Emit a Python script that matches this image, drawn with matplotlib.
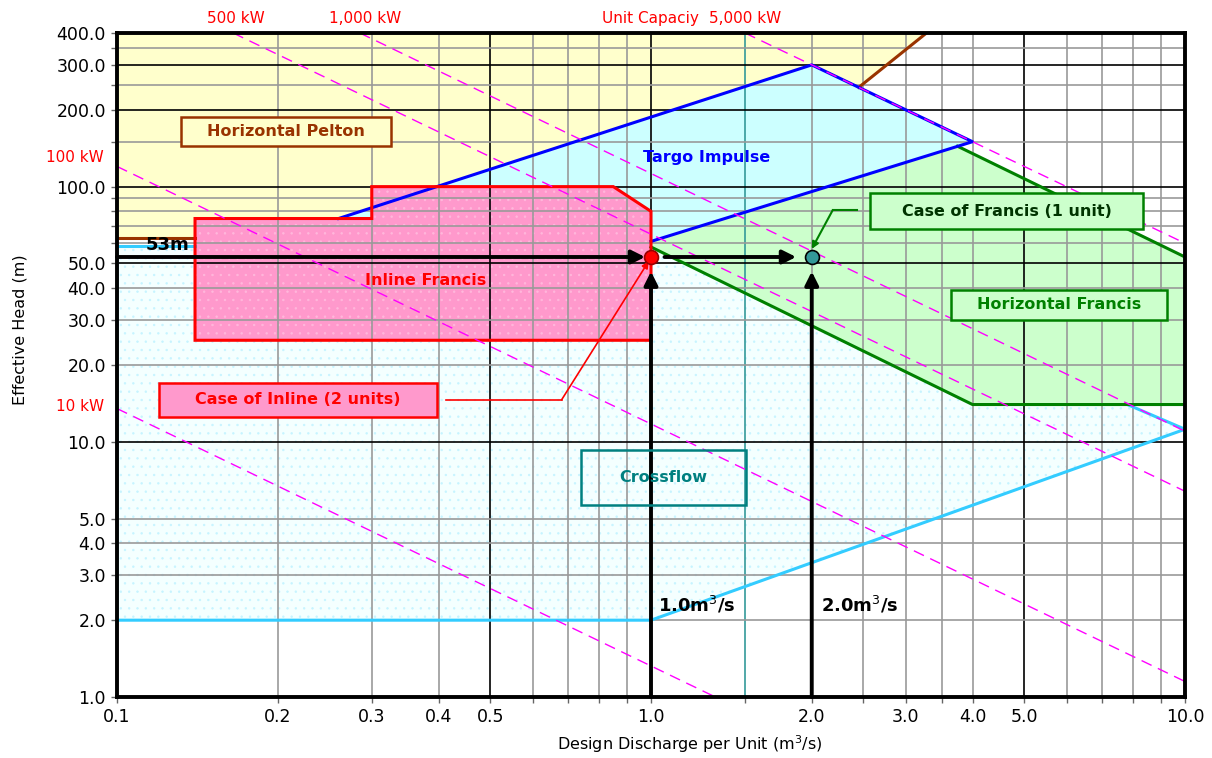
import numpy as np
import matplotlib.pyplot as plt
from matplotlib.patches import Polygon, Rectangle
from matplotlib.ticker import NullFormatter
from matplotlib.transforms import blended_transform_factory

# axis ticks and grid
x_ticks = [0.1, 0.2, 0.3, 0.4, 0.5, 1.0, 2.0, 3.0, 4.0, 5.0, 10.0]
x_ticklabels = ["0.1", "0.2", "0.3", "0.4", "0.5", "1.0", "2.0", "3.0", "4.0", "5.0", "10.0"]
x_minor = [0.6, 0.7, 0.8, 0.9, 1.5, 2.5, 3.5, 6.0, 7.0, 8.0, 9.0]
x_dark = [0.5, 1.0, 5.0]
y_ticks = [1, 2, 3, 4, 5, 10, 20, 30, 40, 50, 100, 200, 300, 400]
y_ticklabels = ["1.0", "2.0", "3.0", "4.0", "5.0", "10.0", "20.0", "30.0", "40.0",
                "50.0", "100.0", "200.0", "300.0", "400.0"]
y_minor = [60, 70, 80, 90, 150, 250, 350]
y_dark = [10, 50, 100, 200, 300]

# unit capacity lines (Q-H end points)
cap_labels = ["10 kW", "100 kW", "500 kW", "1,000 kW", "5,000 kW"]
cap_q = [[0.1, 1.32], [0.1, 10.0], [0.165, 10.0], [0.285, 10.0], [1.5, 10.0]]
cap_h = [[13.5, 1.0], [120.0, 1.15], [400.0, 6.4], [400.0, 11.0], [400.0, 60.0]]

# turbine application ranges
pelton_q = [0.1, 0.1, 3.28, 2.45, 2.0, 0.26, 0.26]
pelton_h = [63, 400, 400, 245, 300, 75, 63]
targo_q = [0.26, 2.0, 4.0, 1.0]
targo_h = [75, 300, 150, 61]
francis_q = [1.0, 4.0, 10.0, 10.0, 3.75, 1.0]
francis_h = [58, 14, 14, 53, 144, 61]
cross_q = [0.1, 0.1, 1.0, 10.0, 7.8, 1.85]
cross_h = [58.5, 2, 2, 11.2, 14, 58.5]
inline_q = [0.14, 0.14, 0.3, 0.3, 0.85, 1.0, 1.0]
inline_h = [25, 75, 75, 100, 100, 80, 25]

# selected cases
case_q = [1.0, 2.0]
case_h = [53, 53]

fig = plt.figure(figsize=(12.12, 7.58), dpi=100)
ax = fig.add_axes([117 / 1212, 1 - 697 / 758, 1068 / 1212, 664 / 758])
ax.set_xscale("log")
ax.set_yscale("log")
ax.set_xlim(0.1, 10)
ax.set_ylim(1, 400)


def region(q, h, face, z, dots=None):
    pts = np.column_stack([q, h])
    ax.add_patch(Polygon(pts, closed=True, facecolor=face, edgecolor="none", zorder=z))
    if dots:
        ax.add_patch(Polygon(pts, closed=True, fill=False, edgecolor=dots, lw=0,
                             hatch="..", zorder=z))


plt.rcParams["hatch.linewidth"] = 0.5
region(cross_q, cross_h, "#F4FFFF", 1.0, dots="#C6F4FF")
region(pelton_q, pelton_h, "#FFFFCC", 1.1)
region(francis_q, francis_h, "#CCFFCC", 1.2)
region(targo_q, targo_h, "#CCFFFF", 1.3)
region(inline_q, inline_h, "#FF99CC", 1.4, dots="#FFB8DC")

# grid
for v in x_ticks[1:-1] + x_minor:
    c = "black" if v in x_dark else ("#339999" if v == 1.5 else "#999999")
    ax.axvline(v, color=c, lw=1.2, zorder=2)
for v in y_ticks[1:-1] + y_minor:
    c = "black" if v in y_dark else "#999999"
    ax.axhline(v, color=c, lw=1.2, zorder=2)

# region outlines
ax.plot([0.14, 0.1], [63, 63], color="#993300", lw=2.2, zorder=3)
ax.plot(pelton_q[2:4], pelton_h[2:4], color="#993300", lw=2.2, zorder=3)
ax.plot(cross_q[:5], cross_h[:5], color="#33CCFF", lw=2.2, zorder=3)
ax.plot([0.1, 0.14], [58.5, 58.5], color="#33CCFF", lw=2.2, zorder=3)
ax.plot(francis_q[:3], francis_h[:3], color="#008000", lw=2.2, zorder=3)
ax.plot(francis_q[3:5], francis_h[3:5], color="#008000", lw=2.2, zorder=3)
ax.plot(targo_q, targo_h, color="#0000FF", lw=2.2, zorder=3.1)
ax.add_patch(Polygon(np.column_stack([inline_q, inline_h]), closed=True, fill=False,
                     edgecolor="#FF0000", lw=2.2, zorder=3.2))

# unit capacity lines
for q, h in zip(cap_q, cap_h):
    ax.plot(q, h, color="#FF00FF", lw=1.0, ls=(0, (8, 5)), zorder=3.5)

# 53 m / discharge arrows
arw = dict(arrowstyle="-|>", color="black", lw=2.8, mutation_scale=20, shrinkA=0, shrinkB=0)
ax.annotate("", xy=(0.975, case_h[0]), xytext=(0.1, case_h[0]), arrowprops=arw, zorder=5)
ax.annotate("", xy=(1.87, case_h[1]), xytext=(1.06, case_h[1]), arrowprops=arw, zorder=5)
ax.annotate("", xy=(case_q[0], 46.5), xytext=(case_q[0], 1.0), arrowprops=arw, zorder=5)
ax.annotate("", xy=(case_q[1], 46.5), xytext=(case_q[1], 1.0), arrowprops=arw, zorder=5)
ax.plot(case_q[0], case_h[0], "o", ms=10, mfc="#FF0000", mec="#990000", mew=1.2, zorder=6)
ax.plot(case_q[1], case_h[1], "o", ms=10, mfc="#339999", mec="black", mew=1.2, zorder=6)

# leaders
ax.annotate("", xy=(0.99, 51), xytext=(0.68, 14.6),
            arrowprops=dict(arrowstyle="-|>", color="#FF0000", lw=1.2, shrinkA=0, shrinkB=0),
            zorder=5)
ax.plot([0.414, 0.68], [14.6, 14.6], color="#FF0000", lw=1.2, zorder=5)
ax.annotate("", xy=(2.0, 57), xytext=(2.19, 81),
            arrowprops=dict(arrowstyle="-|>", color="#008000", lw=1.5, shrinkA=0, shrinkB=0),
            zorder=5)
ax.plot([2.19, 2.43], [81, 81], color="#008000", lw=1.5, zorder=5)


def boxed(x0, x1, y0, y1, text, tcol, face, edge):
    ax.add_patch(Rectangle((x0, y0), x1 - x0, y1 - y0, transform=ax.transAxes,
                           facecolor=face, edgecolor=edge, lw=1.8, zorder=7))
    ax.text((x0 + x1) / 2, (y0 + y1) / 2, text, transform=ax.transAxes, ha="center",
            va="center", color=tcol, fontsize=11.5, fontweight="bold", zorder=8)


boxed(0.060, 0.2566, 0.8298, 0.8735, "Horizontal Pelton", "#993300", "#FFFFCC", "#993300")
boxed(0.0393, 0.2996, 0.4217, 0.4729, "Case of Inline (2 units)", "#FF0000", "#FF99CC", "#FF0000")
boxed(0.7051, 0.9607, 0.7048, 0.7590, "Case of Francis (1 unit)", "#003300", "#CCFFCC", "#008000")
boxed(0.7809, 0.9831, 0.5678, 0.6130, "Horizontal Francis", "#008000", "#CCFFCC", "#008000")
boxed(0.4345, 0.5890, 0.2892, 0.3720, "Crossflow", "#008080", "none", "#008080")

ax.text(1.27, 130, "Targo Impulse", color="#0000FF", fontsize=11.5, fontweight="bold",
        ha="center", va="center", zorder=8)
ax.text(0.378, 42.8, "Inline Francis", color="#FF0000", fontsize=11.5, fontweight="bold",
        ha="center", va="center", zorder=8)
ax.text(0.113, 54.5, "53m", color="black", fontsize=13, fontweight="bold",
        ha="left", va="bottom", zorder=8)
ax.text(1.03, 2.3, "1.0m$^3$/s", color="black", fontsize=13, fontweight="bold",
        ha="left", va="center", zorder=8)
ax.text(2.08, 2.3, "2.0m$^3$/s", color="black", fontsize=13, fontweight="bold",
        ha="left", va="center", zorder=8)

# capacity labels
top = blended_transform_factory(ax.transData, ax.transAxes)
left = blended_transform_factory(ax.transAxes, ax.transData)
ax.text(0.167, 1.022, cap_labels[2], transform=top, color="#FF0000", fontsize=11, ha="center", va="center")
ax.text(0.292, 1.022, cap_labels[3], transform=top, color="#FF0000", fontsize=11, ha="center", va="center")
ax.text(1.5, 1.022, cap_labels[4], transform=top, color="#FF0000", fontsize=11, ha="center", va="center")
ax.text(1.23, 1.022, "Unit Capaciy", transform=top, color="#FF0000", fontsize=11, ha="right", va="center")
ax.text(-0.012, 130, cap_labels[1], transform=left, color="#FF0000", fontsize=11, ha="right", va="center")
ax.text(-0.012, 13.7, cap_labels[0], transform=left, color="#FF0000", fontsize=11, ha="right", va="center")

# axes
ax.set_xticks(x_ticks, x_ticklabels)
ax.set_xticks(x_minor, minor=True)
ax.set_yticks(y_ticks, y_ticklabels)
ax.set_yticks(y_minor, minor=True)
ax.xaxis.set_minor_formatter(NullFormatter())
ax.yaxis.set_minor_formatter(NullFormatter())
ax.tick_params(which="both", direction="out", length=4, width=1, color="#666666",
               labelsize=12.5, pad=4)
for s in ax.spines.values():
    s.set_linewidth(2.8)
    s.set_zorder(9)
ax.set_xlabel("Design Discharge per Unit (m$^3$/s)", fontsize=11.5)
ax.set_ylabel("Effective Head (m)", fontsize=11.5)
ax.xaxis.set_label_coords(0.5365, -0.055)
ax.yaxis.set_label_coords(-0.084, 0.553)

fig.savefig("out.png", dpi=100)
